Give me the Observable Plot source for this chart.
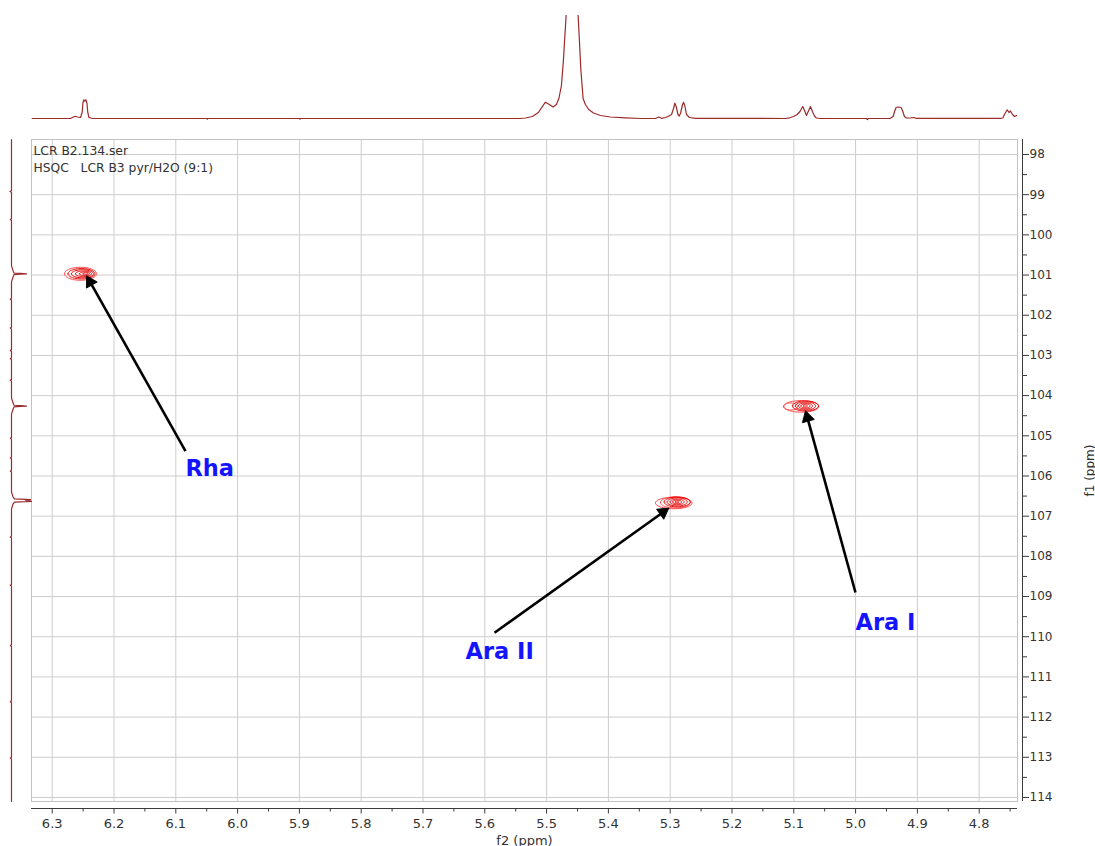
<!DOCTYPE html>
<html><head><meta charset="utf-8">
<script src="https://cdn.jsdelivr.net/npm/d3@7"></script>
<script src="https://cdn.jsdelivr.net/npm/@observablehq/plot@0.6"></script>
<style>
html,body{margin:0;padding:0;background:#fff;}
#chart{position:relative;width:1095px;height:846px;background:#fff;}
#chart svg{position:absolute;left:0;top:0;}
</style></head><body><div id="chart"></div>
<script>
// ---- axes / ticks ----
const xDomain = [6.3335, 4.738];          // f2 (ppm), reversed
const yDomain = [97.627, 114.10];         // f1 (ppm), increasing downward
const xTicks = [6.3, 6.2, 6.1, 6.0, 5.9, 5.8, 5.7, 5.6, 5.5, 5.4, 5.3, 5.2, 5.1, 5.0, 4.9, 4.8];
const xMinorTicks = [6.25, 6.15, 6.05, 5.95, 5.85, 5.75, 5.65, 5.55, 5.45, 5.35, 5.25, 5.15, 5.05, 4.95, 4.85, 4.75];
const yTicks = [98, 99, 100, 101, 102, 103, 104, 105, 106, 107, 108, 109, 110, 111, 112, 113, 114];
const yMinorTicks = [98.5, 99.5, 100.5, 101.5, 102.5, 103.5, 104.5, 105.5, 106.5, 107.5, 108.5, 109.5, 110.5, 111.5, 112.5, 113.5];
const infoLines = ["LCR B2.134.ser", "HSQC\u00a0\u00a0 LCR B3 pyr/H2O (9:1)"];

// ---- 1H projection (top): [ppm, intensity] ----
const topTrace = [
  [6.3324,0],[6.2704,0],[6.2655,1.5],[6.2623,2.3],[6.2591,1.5],[6.2542,1],[6.2515,6],[6.2502,16],
  [6.2489,18.7],[6.2473,17.5],[6.2453,18.7],[6.2437,15],[6.2424,6],[6.2405,1],[6.2348,0],
  [6.05,0],[6.049,-0.7],[6.048,0],[5.90,0],[5.899,-0.7],[5.898,0],
  [5.5422,0],[5.5343,0.5],[5.5230,2],[5.5133,6],[5.5019,16.3],[5.4955,14],[5.4895,11.5],[5.4841,14],
  [5.4801,20],[5.4760,33],[5.4728,58],[5.4704,83],[5.4684,103],[5.4587,600],
  [5.4490,103],[5.4469,78],[5.4445,48],[5.4409,20],[5.4372,14],[5.4319,9],[5.4241,5.5],[5.4128,3],
  [5.3966,1.5],[5.3723,0.7],[5.3481,0],[5.3239,0],[5.3184,1.5],[5.3140,0.2],[5.3075,1],[5.3027,2.3],
  [5.2978,4],[5.2946,10],[5.2925,15.3],[5.2903,12],[5.2874,4],[5.2854,2.5],[5.2833,5],[5.2804,13],
  [5.2785,16.3],[5.2764,13],[5.2736,4],[5.2688,1],[5.2590,0.2],
  [5.1134,0],[5.1065,0.7],[5.1005,2],[5.0945,4],[5.0900,7],[5.0855,12],[5.0819,7],[5.0795,3],
  [5.0766,7],[5.0730,12],[5.0698,7],[5.0666,2.5],[5.0634,0.5],[5.0570,0],
  [4.9825,0],[4.9809,-1],[4.9793,0],[4.9437,0.2],[4.9393,2],[4.9364,8],[4.9345,11],[4.9307,11.5],
  [4.9264,11],[4.9235,7],[4.9210,2],[4.9178,0.5],[4.9113,0.5],[4.9060,1],[4.9016,0.2],
  [4.7656,0.2],[4.7618,0.5],[4.7583,5],[4.7547,8.7],[4.7518,6],[4.7494,7.5],[4.7461,4],[4.7429,2],[4.7385,3.3]
];

// ---- 13C projection (left): [f1 ppm, intensity] ----
const leftTrace = [
  [97.63,0],[98.9,0],[98.92,-1.5],[98.94,0],[99.6,0],[99.62,-1.2],[99.64,0],
  [100.77,0],[100.89,1.5],[100.95,2.5],[100.96,9],[100.97,15],[100.98,9],[100.99,2.5],[101.05,1.5],[101.17,0],
  [101.58,0],[101.60,-1.3],[101.62,0],[102.30,0],[102.32,-1.3],[102.34,0],[102.86,0],[102.88,-1.2],[102.90,0],
  [103.06,0],[103.08,-1.2],[103.10,0],[103.60,0],[103.62,-1.2],[103.64,0],
  [104.06,0],[104.18,1.5],[104.24,2.5],[104.25,9],[104.26,15],[104.27,9],[104.28,2.5],[104.34,1.5],[104.46,0],
  [105.04,0],[105.06,-1.2],[105.08,0],[105.53,0],[105.55,-1.2],[105.57,0],[105.86,0],[105.88,-1.2],[105.90,0],
  [106.40,0],[106.52,1.5],[106.57,3],[106.59,19],[106.61,14],[106.63,20],[106.65,3],[106.70,1.5],[106.82,0],
  [107.5,0],[107.52,-1.2],[107.54,0],[108.7,0],[108.72,-1.2],[108.74,0],[110.2,0],[110.22,-1.2],[110.24,0],
  [111.6,0],[111.62,-1.2],[111.64,0],[113.0,0],[113.02,-1.2],[113.04,0],[114.10,0]
];

// ---- HSQC cross-peak contour rings: centre (ppm), radii (ppm), level ----
const contourRings = [
  {peak:"Rha",   x:6.2542, y:100.968, rx:0.0259, ry:0.162, level:"outer"},
  {peak:"Rha",   x:6.2526, y:100.968, rx:0.0218, ry:0.129, level:"inner"},
  {peak:"Rha",   x:6.2510, y:100.968, rx:0.0178, ry:0.100, level:"inner"},
  {peak:"Rha",   x:6.2493, y:100.968, rx:0.0129, ry:0.070, level:"inner"},
  {peak:"Rha",   x:6.2477, y:100.968, rx:0.0081, ry:0.045, level:"inner"},
  {peak:"Rha",   x:6.2461, y:100.968, rx:0.0040, ry:0.022, level:"inner"},
  {peak:"AraII", x:5.2942, y:106.671, rx:0.0296, ry:0.144, level:"outer"},
  {peak:"AraII", x:5.2915, y:106.660, rx:0.0243, ry:0.137, level:"outer"},
  {peak:"AraII", x:5.2887, y:106.646, rx:0.0210, ry:0.124, level:"inner"},
  {peak:"AraII", x:5.2887, y:106.646, rx:0.0162, ry:0.100, level:"inner"},
  {peak:"AraII", x:5.2887, y:106.646, rx:0.0113, ry:0.070, level:"inner"},
  {peak:"AraII", x:5.2887, y:106.646, rx:0.0073, ry:0.045, level:"inner"},
  {peak:"AraII", x:5.2887, y:106.646, rx:0.0032, ry:0.020, level:"inner"},
  {peak:"AraI",  x:5.0879, y:104.268, rx:0.0283, ry:0.144, level:"outer"},
  {peak:"AraI",  x:5.1053, y:104.270, rx:0.0113, ry:0.087, level:"outer"},
  {peak:"AraI",  x:5.0811, y:104.258, rx:0.0210, ry:0.124, level:"inner"},
  {peak:"AraI",  x:5.0811, y:104.258, rx:0.0162, ry:0.100, level:"inner"},
  {peak:"AraI",  x:5.0811, y:104.258, rx:0.0113, ry:0.075, level:"inner"},
  {peak:"AraI",  x:5.0811, y:104.258, rx:0.0073, ry:0.050, level:"inner"},
  {peak:"AraI",  x:5.0811, y:104.258, rx:0.0032, ry:0.025, level:"inner"}
];

// ---- annotation arrows (tail -> head) and labels ----
const arrows = [
  {x1:6.0843, y1:105.38, x2:6.2443, y2:101.02},
  {x1:5.5843, y1:109.90, x2:5.3023, y2:106.80},
  {x1:5.0002, y1:108.90, x2:5.0810, y2:104.38}
];
const labels = [
  {name:"Rha",    x:6.0843, y:105.83},
  {name:"Ara II", x:5.6312, y:110.37},
  {name:"Ara I",  x:5.0002, y:109.65}
];

// outline points of each contour ring
const ringPoints = contourRings.flatMap((r, i) => d3.range(0, 61).map(k => {
  const t = (k / 60) * 2 * Math.PI;
  return {ring: i, level: r.level, x: r.x + r.rx * Math.cos(t), y: r.y + r.ry * Math.sin(t)};
}));

// filled arrow heads: orient a triangle along each arrow using the same scales as the chart
const sx = Plot.scale({x: {domain: xDomain, range: [31, 1017]}});
const sy = Plot.scale({y: {domain: yDomain, range: [139, 801]}});
const HEAD_BACK = 7;
const heads = arrows.map(a => {
  const px1 = sx.apply(a.x1), py1 = sy.apply(a.y1), px2 = sx.apply(a.x2), py2 = sy.apply(a.y2);
  const dx = px2 - px1, dy = py2 - py1, len = Math.hypot(dx, dy);
  return {
    x: sx.invert(px2 - dx / len * HEAD_BACK),
    y: sy.invert(py2 - dy / len * HEAD_BACK),
    angle: Math.atan2(dx, -dy) * 180 / Math.PI
  };
});
const shafts = arrows.map((a, i) => ({x1: a.x1, y1: a.y1, x2: heads[i].x, y2: heads[i].y}));

const FONT = "'DejaVu Sans', Verdana, sans-serif";
const AXIS = "#3a3a3a";

const main = Plot.plot({
  width: 1095, height: 846,
  marginTop: 139, marginBottom: 45, marginLeft: 31, marginRight: 78,
  style: {fontFamily: FONT, fontSize: "12px", color: "#333", background: "transparent"},
  x: {domain: xDomain},
  y: {domain: yDomain, reverse: true},
  marks: [
    Plot.gridX(xTicks, {stroke: "#cdcdcd", strokeOpacity: 1}),
    Plot.gridY(yTicks, {stroke: "#cdcdcd", strokeOpacity: 1}),
    Plot.frame({stroke: "#c2c2c2"}),
    Plot.text([infoLines.join("\n")], {text: d => d, frameAnchor: "top-left", dx: 2, dy: 3, lineAnchor: "top", lineHeight: 1.4, fontSize: 12.3, fill: "#333", textAnchor: "start"}),
    Plot.line(ringPoints.filter(d => d.level === "outer"), {x: "x", y: "y", z: "ring", stroke: "#ff4a4a", strokeWidth: 1}),
    Plot.line(ringPoints.filter(d => d.level === "inner"), {x: "x", y: "y", z: "ring", stroke: "#e60000", strokeWidth: 1}),
    Plot.link(shafts, {x1: "x1", y1: "y1", x2: "x2", y2: "y2", stroke: "#000", strokeWidth: 2.6}),
    Plot.dot(heads, {x: "x", y: "y", rotate: "angle", symbol: "triangle", r: 4.6, fill: "#000", stroke: "#000", strokeWidth: 0.8}),
    Plot.text(labels, {x: "x", y: "y", text: "name", textAnchor: "start", fill: "#1414ff", fontSize: 22.5, fontWeight: "bold", fontFamily: FONT}),
    // axis lines
    Plot.ruleY([yDomain[1]], {dy: 7, stroke: AXIS}),
    Plot.ruleX([xDomain[1]], {dx: 5, stroke: AXIS}),
    // x axis
    Plot.axisX(xMinorTicks, {anchor: "bottom", dy: 7, tickSize: 3.5, tickFormat: () => "", label: null, stroke: AXIS}),
    Plot.axisX(xTicks, {anchor: "bottom", dy: 7, tickSize: 5.5, tickPadding: 5, tickFormat: d => d.toFixed(1), fontSize: 13, stroke: AXIS, fill: "#333",
      label: "f2 (ppm)", labelAnchor: "center", labelOffset: 43, labelArrow: false}),
    // y axis
    Plot.axisY(yMinorTicks, {anchor: "right", dx: 5, tickSize: 4, tickFormat: () => "", label: null, stroke: AXIS}),
    Plot.axisY(yTicks, {anchor: "right", dx: 5, tickSize: 6, tickPadding: 1, tickFormat: d => String(d), fontSize: 12, stroke: AXIS, fill: "#333",
      label: "f1 (ppm)", labelAnchor: "center", labelOffset: 76, labelArrow: false})
  ]
});

const topPlot = Plot.plot({
  width: 1095, height: 139,
  marginTop: 15, marginBottom: 15, marginLeft: 31, marginRight: 78,
  style: {background: "transparent"},
  x: {domain: xDomain, axis: null},
  y: {domain: [-6, 103], axis: null},
  marks: [
    Plot.line(topTrace, {x: d => d[0], y: d => d[1], stroke: "#9c2b2b", strokeWidth: 1.2, clip: true})
  ]
});

const leftPlot = Plot.plot({
  width: 40, height: 846,
  marginTop: 139, marginBottom: 45, marginLeft: 0, marginRight: 0,
  style: {background: "transparent"},
  x: {domain: [-11, 29], axis: null},
  y: {domain: yDomain, reverse: true, axis: null},
  marks: [
    Plot.line(leftTrace, {x: d => d[1], y: d => d[0], stroke: "#9c2b2b", strokeWidth: 1.2})
  ]
});

const root = document.getElementById("chart");
root.appendChild(main);
root.appendChild(topPlot);
root.appendChild(leftPlot);
</script></body></html>
